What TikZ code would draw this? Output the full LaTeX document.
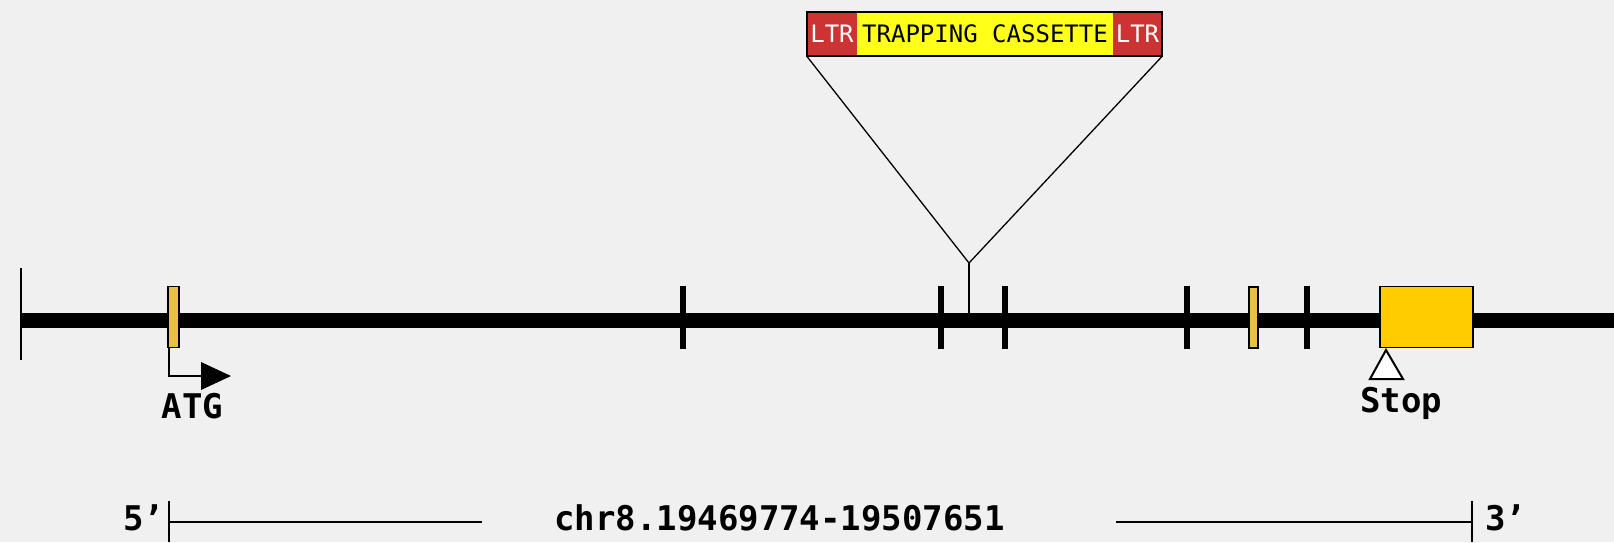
\documentclass[tikz,border=0pt]{standalone}
\usepackage{fontspec}
\newfontfamily\gmono{DejaVu Sans Mono}
\definecolor{bg}{HTML}{F0F0F0}
\definecolor{ltrred}{HTML}{CC3333}
\definecolor{trapyel}{HTML}{FFFF1A}
\definecolor{exonA}{HTML}{E8C048}
\definecolor{exonB}{HTML}{FFCC00}
\begin{document}
\begin{tikzpicture}[x=1pt,y=-1pt,
  tickmark/.style={fill=black,inner sep=0,minimum width=6pt,minimum height=63pt},
  exon/.style={draw=black,line width=1.5pt,inner sep=0,minimum height=61pt},
  cas/.style={inner sep=0,minimum height=44pt,font=\gmono\fontsize{24}{24}\selectfont},
  lbl/.style={inner sep=0,anchor=base,font=\gmono\bfseries\fontsize{34}{34}\selectfont},
  thin/.style={line width=1.3pt},
  mid/.style={line width=2.5pt}]
\fill[bg] (0,0) rectangle (1614,542);
\useasboundingbox (0,0) rectangle (1614,542);
% main line
\coordinate (gstart) at (21,320.5);
\coordinate (gend) at (1614,320.5);
\draw[line width=15pt] (gstart) -- (gend);
\coordinate (lt1) at (21,268);
\coordinate (lt2) at (21,360);
\draw[line width=2pt] (lt1) -- (lt2);
% insertion
\coordinate (ins) at (969,263);
\coordinate (insb) at (969,318);
\draw[thin] (ins) -- (insb);
% ticks
\foreach \n/\x in {t1/683,t2/941,t3/1005,t4/1187,t5/1307}
  \node[tickmark] (\n) at (\x,317.5) {};
% exons
\node[exon,fill=exonA,minimum width=11pt] (atg) at (173.5,317) {};
\node[exon,fill=exonA,minimum width=9pt] (ex2) at (1253.5,317.5) {};
\node[exon,fill=exonB,minimum width=93pt] (stopex) at (1426.5,317) {};
% ATG arrow
\coordinate (arr) at (201,376);
\draw[line width=2pt] ([xshift=1.5pt]atg.south west) |- (arr);
\fill (201,362) -- (231,376) -- (201,390) -- cycle;
\node[lbl] (atgl) at (192.5,418) {ATG};
% Stop triangle
\draw[line width=2pt,fill=white] (1386,350) -- (1403,379) -- (1370,379) -- cycle;
\node[lbl] (stopl) at (1401,412) {Stop};
% cassette
\node[cas,fill=ltrred,minimum width=50pt,text=white] (ltrL) at (832,34) {LTR};
\node[cas,fill=trapyel,minimum width=256pt] (trap) at (985,34) {TRAPPING CASSETTE};
\node[cas,fill=ltrred,minimum width=49pt,text=white] (ltrR) at (1137.5,34) {LTR};
\draw[line width=2pt] (ltrL.north west) rectangle (ltrR.south east);
\draw[thin] (ltrL.south west) -- (ins) -- (ltrR.south east);
% scale bar
\node[lbl] (chr) at (779.5,530) {chr8.19469774-19507651};
\node[lbl,anchor=base west] (five) at (123,530) {5’};
\node[lbl,anchor=base west] (three) at (1485,530) {3’};
\coordinate (sb1) at (169,522);
\coordinate (sb2) at (482,522);
\coordinate (sb3) at (1116,522);
\coordinate (sb4) at (1472,522);
\coordinate (sbt1) at (169,501);
\coordinate (sbt1b) at (169,542);
\coordinate (sbt2) at (1472,501);
\coordinate (sbt2b) at (1472,542);
\draw[mid] (sb1) -- (sb2);
\draw[mid] (sb3) -- (sb4);
\draw[mid] (sbt1) -- (sbt1b);
\draw[mid] (sbt2) -- (sbt2b);
\end{tikzpicture}
\end{document}
